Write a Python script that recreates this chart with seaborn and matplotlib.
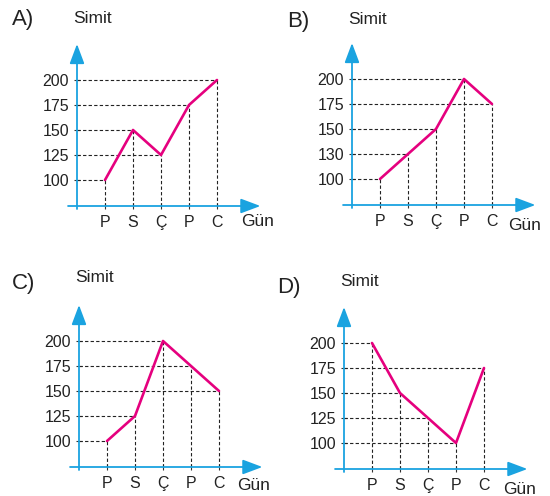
"""
Dört seçenekli simit satış grafiği (A-D) - seaborn ile çizgi grafikleri.
"""
import numpy as np
import pandas as pd
import seaborn as sns
import matplotlib.pyplot as plt
from matplotlib.ticker import FixedLocator

# veriler
gunler = ["P", "S", "Ç", "P", "C"]
simit_a = [100, 150, 125, 175, 200]
simit_b = [100, 130, 150, 200, 175]
simit_c = [100, 125, 200, 175, 150]
simit_d = [200, 150, 125, 100, 175]
ticks_a = [100, 125, 150, 175, 200]
ticks_b = [100, 130, 150, 175, 200]
ticks_c = [100, 125, 150, 175, 200]
ticks_d = [100, 125, 150, 175, 200]
etiketler = ["A)", "B)", "C)", "D)"]

# yerleşim: y ekseni x pikseli, 100'ün y pikseli (üstten), harf x/y, simit y, gün x/y
konumlar = [
    (77, 180, -2.32, 260, 261, 5.86, 58),
    (352, 179, -2.32, 258, 260, 5.57, 54),
    (79, 441, -2.39, 258, 263, 5.64, 56),
    (344, 443, -2.39, 256, 262, 5.68, 54),
]

CYAN = "#1aa3e0"
PINK = "#e5007e"
W, H = 550, 496
PX = 28      # gün başına piksel
TABAN = 74   # x ekseninin y değeri
UST = 240


def main():
    sns.set_theme(style="white")
    plt.rcParams['font.family'] = ['Liberation Sans', 'DejaVu Sans']

    fig = plt.figure(figsize=(W / 100, H / 100), dpi=100)

    veriler = [simit_a, simit_b, simit_c, simit_d]
    tickler = [ticks_a, ticks_b, ticks_c, ticks_d]

    for harf, vals, tks, kon in zip(etiketler, veriler, tickler, konumlar):
        x0, y100, hx, hy, sy, gx, gy = kon
        alt = H - (y100 + (100 - TABAN))
        ax = fig.add_axes([x0 / W, alt / H, 7 * PX / W, (UST - TABAN) / H])

        # B şıkkında 130 etiketi eşit aralıklı çizilmiş
        if tks != ticks_a:
            src = np.array([0] + tks + [400], dtype=float)
            dst = np.array([0] + ticks_a + [400], dtype=float)
            ax.set_yscale('function',
                          functions=(lambda v, s=src, d=dst: np.interp(v, s, d),
                                     lambda v, s=src, d=dst: np.interp(v, d, s)))

        xs = np.arange(1, len(gunler) + 1)
        df = pd.DataFrame({"gun": xs, "simit": vals})

        ax.hlines(df["simit"], 0, df["gun"], colors="#222222", linestyles=(0, (3, 2)), lw=0.8)
        ax.vlines(df["gun"], TABAN, df["simit"], colors="#222222", linestyles=(0, (3, 2)), lw=0.8)
        sns.lineplot(data=df, x="gun", y="simit", ax=ax, color=PINK, lw=1.9, zorder=5)

        ax.set_xlim(0, 7)
        ax.set_ylim(TABAN, UST)
        ax.xaxis.set_major_locator(FixedLocator(xs))
        ax.set_xticklabels(gunler)
        ax.yaxis.set_major_locator(FixedLocator(tks))
        ax.set_yticklabels([str(t) for t in tks])
        ax.set_xlabel("")
        ax.set_ylabel("")
        for s in ax.spines.values():
            s.set_visible(False)
        ax.tick_params(axis='both', direction='inout', length=5, width=0.8,
                       color="#333333", labelsize=11.5, labelcolor="#222222")
        ax.tick_params(axis='x', pad=4, bottom=True)
        ax.tick_params(axis='y', pad=3.2, left=True)

        # eksen okları
        ok = dict(arrowstyle='-|>,head_length=1.2,head_width=0.45', color=CYAN,
                  lw=1.3, shrinkA=0, shrinkB=0, mutation_scale=10)
        ax.annotate('', xy=(0, 236), xytext=(0, 71), arrowprops=ok, annotation_clip=False)
        ax.annotate('', xy=(6.55, TABAN), xytext=(-0.32, TABAN), arrowprops=ok, annotation_clip=False)

        ax.text(0.56, sy, "Simit", ha='center', va='center', fontsize=12.5,
                color="#222222", clip_on=False)
        ax.text(hx, hy, harf, ha='left', va='center', fontsize=16,
                color="#222222", clip_on=False)
        ax.text(gx, gy, "Gün", ha='left', va='center', fontsize=12.5,
                color="#222222", clip_on=False)

    fig.savefig("out.png", dpi=100)
    plt.close(fig)


if __name__ == "__main__":
    main()
